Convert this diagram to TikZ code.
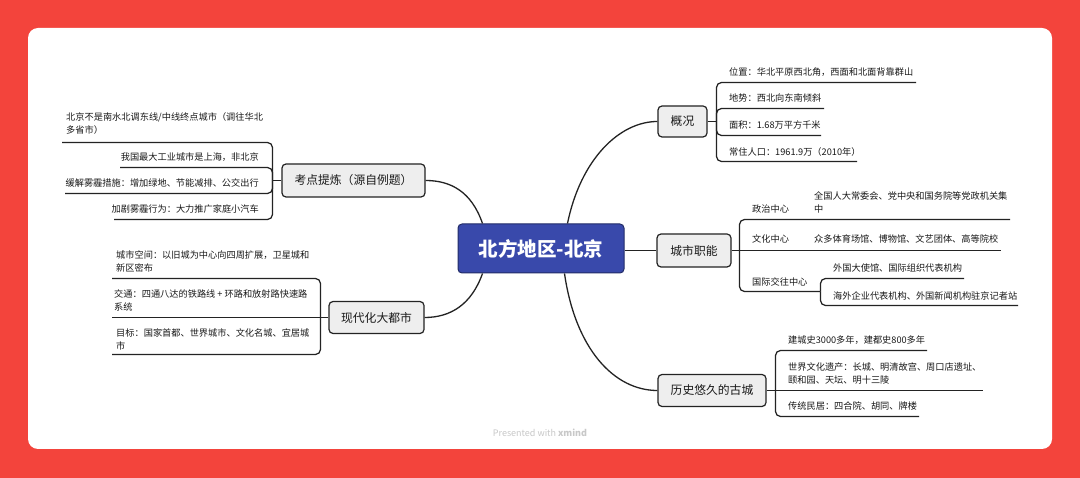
\documentclass[tikz,border=0pt]{standalone}
\usepackage{fontspec}
\setmainfont{Noto Sans CJK SC}
\usetikzlibrary{calc}
\definecolor{bgred}{RGB}{243,68,60}
\definecolor{nodefill}{RGB}{238,238,238}
\definecolor{linecol}{RGB}{35,35,35}
\definecolor{rootblue}{RGB}{57,73,171}
\definecolor{footgray}{RGB}{200,200,200}
\definecolor{txtcol}{RGB}{25,25,25}
\tikzset{
  rootnode/.style={fill=rootblue, draw=rootblue!60!black, line width=1pt, rounded corners=4,
    minimum width=166, minimum height=49, text=white, inner sep=0,
    font=\fontsize{19.5}{22}\selectfont\bfseries},
  topic/.style={fill=nodefill, draw=linecol, line width=1.2pt, rounded corners=4, inner sep=0,
    text=txtcol, font=\fontsize{11.8}{14}\selectfont},
  item/.style={inner sep=0, text=txtcol, align=left, font=\fontsize{9.2}{13}\selectfont},
  link/.style={draw=linecol, line width=1.3pt},
  uline/.style={draw=linecol, line width=1.25pt, rounded corners=5},
}
\begin{document}
\begin{tikzpicture}[x=1pt,y=-1pt]
\useasboundingbox (0,0) rectangle (1080,478);
\fill[bgred] (0,0) rectangle (1080,478);
\fill[white, rounded corners=10] (28,28) rectangle (1052,449);

% root and topics
\node[rootnode] (root) at (541,248.5) {北方地区-北京};
\node[topic, minimum width=49, minimum height=31] (gk) at (682.5,121.5) {概况};
\node[topic, minimum width=74, minimum height=33] (csz) at (694,250.5) {城市职能};
\node[topic, minimum width=108, minimum height=32] (lsg) at (712,390.5) {历史悠久的古城};
\node[topic, minimum width=143, minimum height=33] (kd) at (353.5,180.5) {考点提炼（源自例题）};
\node[topic, minimum width=95, minimum height=32] (xdh) at (376.5,317.5) {现代化大都市};

% main links
\draw[link] ($(root.north west)+(25,0)$) .. controls +(-11,-32) and +(25,0) .. (kd.east);
\draw[link] ($(root.north east)+(-57,0)$) .. controls +(13,-64) and +(-38,0) .. (gk.west);
\draw[link] ($(root.south west)+(25,0)$) .. controls +(-11,31) and +(26,0) .. (xdh.east);
\draw[link] ($(root.south east)+(-60,0)$) .. controls +(11,76) and +(-43,0) .. (lsg.west);
\draw[link] (root.east |- csz.west) -- (csz.west);

% 概况
\coordinate (jg) at (716.5,121.5);
\draw[link] (gk.east) -- (jg);
\node[item, anchor=west] (g1) at (729,72) {位置：华北平原西北角，西面和北面背靠群山};
\node[item, anchor=west] (g2) at (729,98) {地势：西北向东南倾斜};
\node[item, anchor=west] (g3) at (729,125) {面积：1.68万平方千米};
\node[item, anchor=west] (g4) at (729,152) {常住人口：1961.9万（2010年）};
\coordinate (ge1) at (916,82.5);
\coordinate (ge2) at (824,108.5);
\coordinate (ge3) at (821,135.5);
\coordinate (ge4) at (857,161.5);
\foreach \e in {ge1,ge2,ge3,ge4} \draw[uline] (jg) |- (\e);

% 城市职能
\coordinate (jc) at (739.5,250.5);
\draw[link] (csz.east) -- (jc);
\node[item, anchor=west] (c1) at (752,209) {政治中心};
\node[item, anchor=west] (c1a) at (814,202) {全国人大常委会、党中央和国务院等党政机关集\\中};
\node[item, anchor=west] (c2) at (752,239) {文化中心};
\node[item, anchor=west] (c2a) at (814,239) {众多体育场馆、博物馆、文艺团体、高等院校};
\node[item, anchor=west] (c3) at (752,282) {国际交往中心};
\node[item, anchor=west] (c3a) at (833,268) {外国大使馆、国际组织代表机构};
\node[item, anchor=west] (c3b) at (833,296) {海外企业代表机构、外国新闻机构驻京记者站};
\coordinate (ce1) at (1010,219.5);
\coordinate (ce2) at (1001,250.5);
\coordinate (jc3) at (820.5,291.5);
\coordinate (ce3a) at (964,278.5);
\coordinate (ce3b) at (1018,305.5);
\draw[uline] (jc) |- (ce1);
\draw[uline] (jc) -- (ce2);
\draw[uline] (jc) |- (jc3);
\draw[uline] (jc3) |- (ce3a);
\draw[uline] (jc3) |- (ce3b);

% 历史悠久的古城
\coordinate (jl) at (775.5,390.5);
\draw[link] (lsg.east) -- (jl);
\node[item, anchor=west] (l1) at (788,340) {建城史3000多年，建都史800多年};
\node[item, anchor=west] (l2) at (788,374) {世界文化遗产：长城、明清故宫、周口店遗址、\\颐和园、天坛、明十三陵};
\node[item, anchor=west] (l3) at (788,406) {传统民居：四合院、胡同、牌楼};
\coordinate (le1) at (927,350.5);
\coordinate (le2) at (983,390.5);
\coordinate (le3) at (919,416.5);
\draw[uline] (jl) |- (le1);
\draw[uline] (jl) -- (le2);
\draw[uline] (jl) |- (le3);

% 考点提炼
\coordinate (jk) at (272.5,180.5);
\draw[link] (kd.west) -- (jk);
\node[item, anchor=west] (k1) at (66,124) {北京不是南水北调东线/中线终点城市（调往华北\\多省市）};
\node[item, anchor=east] (k2) at (259,157) {我国最大工业城市是上海，非北京};
\node[item, anchor=east] (k3) at (259,183) {缓解雾霾措施：增加绿地、节能减排、公交出行};
\node[item, anchor=east] (k4) at (259,209) {加剧雾霾行为：大力推广家庭小汽车};
\coordinate (ke1) at (62,142.5);
\coordinate (ke2) at (120,167.5);
\coordinate (ke3) at (65,193.5);
\coordinate (ke4) at (114,219.5);
\foreach \e in {ke1,ke2,ke3,ke4} \draw[uline] (jk) |- (\e);

% 现代化大都市
\coordinate (jx) at (320.5,317.5);
\draw[link] (xdh.west) -- (jx);
\node[item, anchor=west] (x1) at (116,261.5) {城市空间：以旧城为中心向四周扩展，卫星城和\\新区密布};
\node[item, anchor=west] (x2) at (114,300.5) {交通：四通八达的铁路线 + 环路和放射路快速路\\系统};
\node[item, anchor=west] (x3) at (116,339.5) {目标：国家首都、世界城市、文化名城、宜居城\\市};
\coordinate (xe1) at (112,278.5);
\coordinate (xe2) at (112,317.5);
\coordinate (xe3) at (112,354.5);
\draw[uline] (jx) |- (xe1);
\draw[uline] (jx) -- (xe2);
\draw[uline] (jx) |- (xe3);

% footer
\node[inner sep=0, text=footgray, font=\fontsize{9}{11}\selectfont] (foot) at (540,433) {Presented with \textbf{xmind}};
\end{tikzpicture}
\end{document}
